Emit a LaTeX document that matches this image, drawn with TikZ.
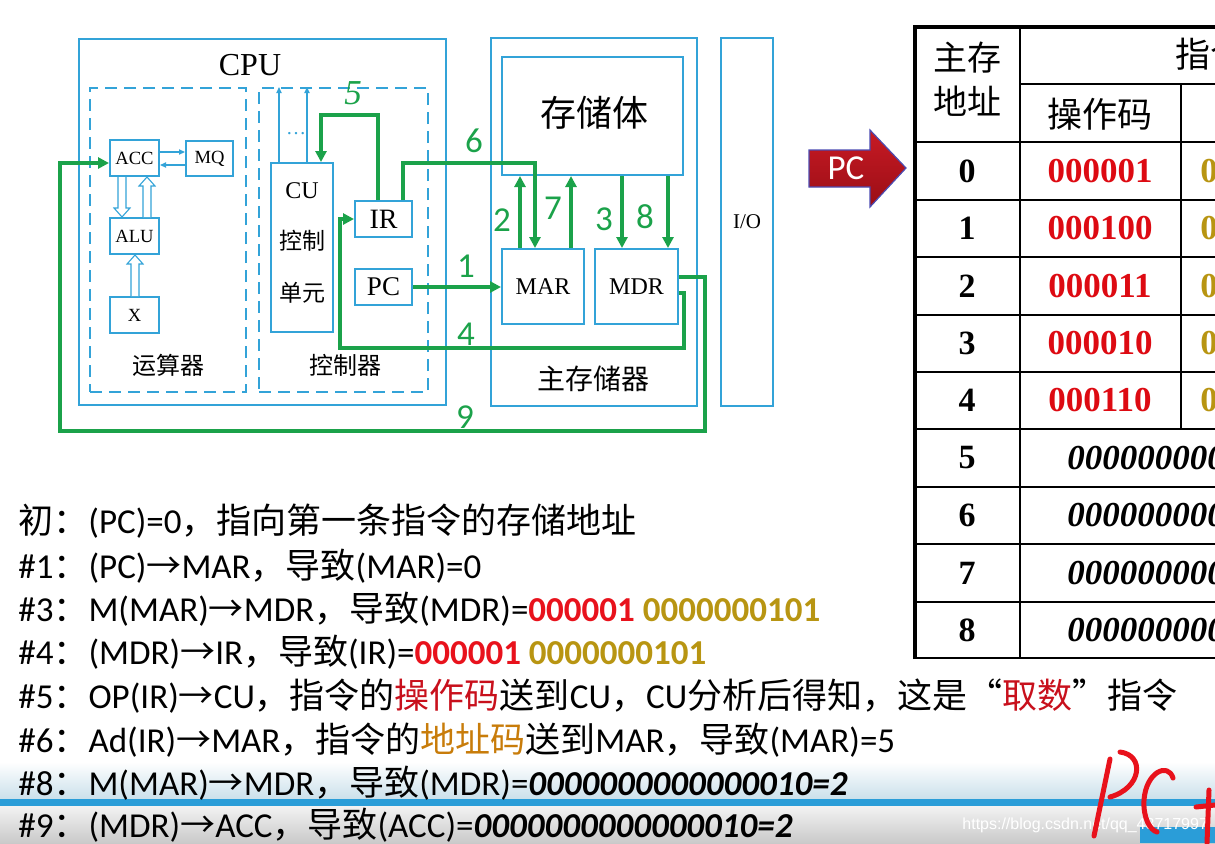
\documentclass[tikz,border=0pt]{standalone}
\usepackage{fontspec}
\setmainfont{Carlito}
\newfontfamily\cjkf{Noto Sans CJK SC}
\newfontfamily\tms{Liberation Serif}
\newfontfamily\lsans{Liberation Sans}
\newcommand\zh[1]{{\cjkf #1}}
\usetikzlibrary{arrows.meta,fit,calc}
\definecolor{cb}{HTML}{33A3D8}
\definecolor{cg}{HTML}{1BA24A}
\definecolor{cr}{HTML}{E8121C}
\definecolor{cgold}{HTML}{B89512}
\definecolor{crr}{HTML}{C8101C}
\definecolor{cor}{HTML}{C87C0A}
\definecolor{tred}{HTML}{DD0A12}
\definecolor{darkred}{HTML}{9A0E16}
\definecolor{midred}{HTML}{C81A24}
\definecolor{barblue}{HTML}{2A9DD8}
\definecolor{haze}{HTML}{C9DFEA}
\newcommand\hollow[3]{\draw[cb,line width=0.55pt,fill=white] let \p1=#1, \p2=#2 in
  (\x1-2pt,\y1) -- (\x1-2pt,\y2#34.5pt) -- (\x1-4pt,\y2#34.5pt) -- (\x1,\y2) --
  (\x1+4pt,\y2#34.5pt) -- (\x1+2pt,\y2#34.5pt) -- (\x1+2pt,\y1);}
\begin{document}
\begin{tikzpicture}[x=0.5pt,y=-0.5pt,
  box/.style={draw=cb,line width=1pt,inner sep=0pt},
  dbox/.style={draw=cb,line width=1pt,dash pattern=on 6pt off 3.5pt,inner sep=0pt},
  gar/.style={draw=cg,line width=1.8pt,-{Triangle[length=5.5pt,width=5.5pt]}},
  tar/.style={draw=cb,line width=0.6pt,-{Triangle[length=3pt,width=2.6pt]}},
  gnum/.style={text=cg,inner sep=0pt,font=\fontsize{17.5}{18}\selectfont},
  blab/.style={inner sep=0pt,font=\tms\fontsize{9.3}{10}\selectfont},
  txt/.style={anchor=base west,inner sep=0pt,font=\fontsize{17.5}{21}\selectfont},
  tnum/.style={inner sep=0pt,font=\tms\bfseries\fontsize{17}{18}\selectfont},
  opc/.style={inner sep=0pt,text=tred,font=\tms\bfseries\fontsize{17.5}{18}\selectfont},
  adr/.style={anchor=west,inner sep=0pt,text=cgold,font=\tms\bfseries\fontsize{17.5}{18}\selectfont},
  dat/.style={anchor=west,inner sep=0pt,font=\tms\bfseries\itshape\fontsize{17.5}{18}\selectfont},
  tline/.style={line width=1pt}]
\useasboundingbox (0,0) rectangle (1215,843);
\clip (0,0) rectangle (1215,843);

% ---------- CPU ----------
\node[box,fit={(79,39) (446,405)}] (cpu) {};
\node[font=\tms\fontsize{16}{18}\selectfont] (cputxt) at (250,65) {CPU};
\node[dbox,fit={(90,88) (246,392)}] (du) {};
\node[dbox,fit={(259,88) (428,392)}] (dc) {};
\node[box,fit={(110,140) (159,176)}] (acc) {};
\node[blab] at (acc.center) {ACC};
\node[box,fit={(186,141) (233,176)}] (mq) {};
\node[blab] at (mq.center) {MQ};
\node[box,fit={(110,218) (159,254)}] (alu) {};
\node[blab] at (alu.center) {ALU};
\node[box,fit={(110,297) (159,333)}] (xx) {};
\node[blab] at (xx.center) {X};
\node[font=\cjkf\fontsize{12}{14}\selectfont] (ysq) at (168,365) {运算器};
\node[font=\cjkf\fontsize{12}{14}\selectfont] (kzq) at (345,365) {控制器};
\node[box,fit={(271,163) (333,332)}] (cu) {};
\node[font=\tms\fontsize{12}{14}\selectfont] (cut) at (302,191) {CU};
\node[font=\cjkf\fontsize{11.5}{14}\selectfont] (cut2) at (302,241) {控制};
\node[font=\cjkf\fontsize{11.5}{14}\selectfont] (cut3) at (302,293) {单元};
\node[text=cb,font=\tms\fontsize{10}{12}\selectfont] (dots) at (296,134) {…};
\node[box,fit={(355,201) (412,237)}] (ir) {};
\node[inner sep=0pt,font=\tms\fontsize{14}{16}\selectfont] at (ir.center) {IR};
\node[box,fit={(355,269) (412,305)}] (pc) {};
\node[inner sep=0pt,font=\tms\fontsize{13.5}{16}\selectfont] at (pc.center) {PC};

% ---------- main memory ----------
\node[box,fit={(491,38) (697,406)}] (mm) {};
\node[box,fit={(502,57) (683,175)}] (body) {};
\node[font=\cjkf\fontsize{18}{20}\selectfont] (bodyt) at (594,113) {存储体};
\node[box,fit={(502,249) (584,324)}] (mar) {};
\node[inner sep=0pt,font=\tms\fontsize{12}{14}\selectfont] at (mar.center) {MAR};
\node[box,fit={(595,249) (678,324)}] (mdr) {};
\node[inner sep=0pt,font=\tms\fontsize{12}{14}\selectfont] at (mdr.center) {MDR};
\node[font=\cjkf\fontsize{14}{16}\selectfont] (mmt) at (593,379) {主存储器};
\node[box,fit={(721,38) (773,406)}] (io) {};
\node[inner sep=0pt,font=\tms\fontsize{10.5}{12}\selectfont] at (io.center) {I/O};

% ---------- internal thin / hollow arrows ----------
\draw[tar] (acc.east |- 0,152) -- (mq.west |- 0,152);
\draw[tar] (mq.west |- 0,165) -- (acc.east |- 0,165);
\draw[tar] (cu.north -| 279,0) -- (dc.north -| 279,0);
\draw[tar] (cu.north -| 307,0) -- (dc.north -| 307,0);
\hollow{(acc.south -| 122,0)}{(alu.north -| 122,0)}{+}
\hollow{(alu.north -| 147,0)}{(acc.south -| 147,0)}{-}
\hollow{(xx.north -| 135,0)}{(alu.south -| 135,0)}{-}

% ---------- green data paths ----------
\draw[gar] (pc.east) -- (pc.east -| mar.west);
\draw[gar] (mar.north -| 520,0) -- (body.south -| 520,0);
\draw[gar] (body.south -| 622,0) -- (mdr.north -| 622,0);
\draw[gar] (mdr.east |- 0,293) -- (684,293) -- (684,348) -- (340,348) -- (340,219) -- (ir.west);
\draw[gar] (ir.north -| 378,0) -- (378,115) -- (321,115) -- (cu.north -| 321,0);
\draw[gar] (ir.north -| 403,0) -- (403,163) -- (535,163) -- (mar.north -| 535,0);
\draw[gar] (mar.north -| 571,0) -- (body.south -| 571,0);
\draw[gar] (body.south -| 668,0) -- (mdr.north -| 668,0);
\draw[gar] (mdr.east |- 0,277) -- (705,277) -- (705,431) -- (60,431) -- (60,163) -- (acc.west |- 0,163);
\node[gnum] (n1) at (466,266) {1};
\node[gnum] (n2) at (502,220) {2};
\node[gnum] (n3) at (604,219) {3};
\node[gnum] (n4) at (466,334) {4};
\node[gnum,font=\tms\itshape\fontsize{17.5}{18}\selectfont] (n5) at (353,93) {5};
\node[gnum] (n6) at (474,141) {6};
\node[gnum] (n7) at (553,208) {7};
\node[gnum] (n8) at (645,217) {8};
\node[gnum] (n9) at (465,417) {9};

% ---------- PC pointer ----------
\draw[draw=gray!60!blue,line width=0.6pt,top color=midred,bottom color=darkred]
  (809,150) -- (870,150) -- (870,130) -- (906,168) -- (870,207) -- (870,187) -- (809,187) -- cycle;
\node[text=white,font=\fontsize{17.5}{18}\selectfont] (pcp) at (846,168) {PC};

% ---------- table ----------
\draw[tline] (1020,27) -- (1020,658);
\draw[tline] (1181,84) -- (1181,429);
\draw[tline] (1020,84) -- (1215,84);
\foreach \y in {142,199.5,257,314.5,372,429,487,544,601.5,658}
  \draw[tline] (915,\y) -- (1215,\y);
\draw[line width=1.6pt] (915,659) -- (915,27) -- (1215,27);
\node[font=\cjkf\fontsize{17}{18}\selectfont] (h1) at (967,58) {主存};
\node[font=\cjkf\fontsize{17}{18}\selectfont] (h2) at (967,101) {地址};
\node[anchor=west,inner sep=0pt,font=\cjkf\fontsize{17.5}{18}\selectfont] (h3) at (1175,54) {指令};
\node[font=\cjkf\fontsize{17.5}{18}\selectfont] (h4) at (1100,114) {操作码};
\foreach \i/\y in {0/171,1/228,2/286,3/343,4/400,5/458,6/515,7/573,8/630}
  \node[tnum] (r\i) at (967,\y) {\i};
\foreach \i/\y/\op/\ad in {0/171/000001/0000000101,1/228/000100/0000000110,
    2/286/000011/0000000111,3/343/000010/0000001000,4/400/000110/0000000000}{
  \node[opc] (op\i) at (1100,\y) {\op};
  \node[adr] (ad\i) at (1200,\y) {\ad};}
\foreach \i/\y/\v in {5/458/0000000000000010,6/515/0000000000000011,
    7/573/0000000000000001,8/630/0000000000000000}
  \node[dat] (d\i) at (1067,\y) {\v};

% ---------- video overlay background ----------
\shade[top color=white,bottom color=haze] (0,762) rectangle (1215,800);
\fill[barblue] (0,799) rectangle (1215,806);
\shade[top color=gray!10,bottom color=gray!42] (0,806) rectangle (1215,843);
\fill[barblue] (1140,827) rectangle (1215,843);

% ---------- explanation lines ----------
\node[txt] (l0) at (18,533) {\zh{初：}(PC)=0\zh{，指向第一条指令的存储地址}};
\node[txt] (l1) at (18,578) {\#1\zh{：}(PC)\zh{→}MAR\zh{，导致}(MAR)=0};
\node[txt] (l3) at (18,621) {\#3\zh{：}M(MAR)\zh{→}MDR\zh{，导致}(MDR)=\textcolor{cr}{\bfseries 000001} \textcolor{cgold}{\bfseries 0000000101}};
\node[txt] (l4) at (18,664) {\#4\zh{：}(MDR)\zh{→}IR\zh{，导致}(IR)=\textcolor{cr}{\bfseries 000001} \textcolor{cgold}{\bfseries 0000000101}};
\node[txt] (l5) at (18,708) {\#5\zh{：}OP(IR)\zh{→}CU\zh{，指令的}\textcolor{crr}{\zh{操作码}}\zh{送到}CU\zh{，}CU\zh{分析后得知，这是“}\textcolor{crr}{\zh{取数}}\zh{”指令}};
\node[txt] (l6) at (18,752) {\#6\zh{：}Ad(IR)\zh{→}MAR\zh{，指令的}\textcolor{cor}{\zh{地址码}}\zh{送到}MAR\zh{，导致}(MAR)=5};
\node[txt] (l8) at (18,795) {\#8\zh{：}M(MAR)\zh{→}MDR\zh{，导致}(MDR)=\textbf{\textit{0000000000000010=2}}};
\node[txt] (l9) at (18,837) {\#9\zh{：}(MDR)\zh{→}ACC\zh{，导致}(ACC)=\textbf{\textit{0000000000000010=2}}};

% ---------- watermark and handwriting ----------
\node[anchor=base west,inner sep=0pt,text=white,font=\lsans\fontsize{8}{9}\selectfont] (wm) at (962,829) {https://blog.csdn.net/qq\_43717997};
\begin{scope}[draw=cr,line width=2.5pt,line cap=round,line join=round]
\draw (1110,759) -- (1094,836);
\draw (1120,752) .. controls (1145,755) and (1142,788) .. (1110,797);
\draw (1173,778) .. controls (1168,762) and (1146,772) .. (1144,800) .. controls (1143,818) and (1150,830) .. (1157,832);
\draw (1196,807) -- (1215,805);
\draw (1209,790) -- (1207,843);
\end{scope}
\end{tikzpicture}
\end{document}
